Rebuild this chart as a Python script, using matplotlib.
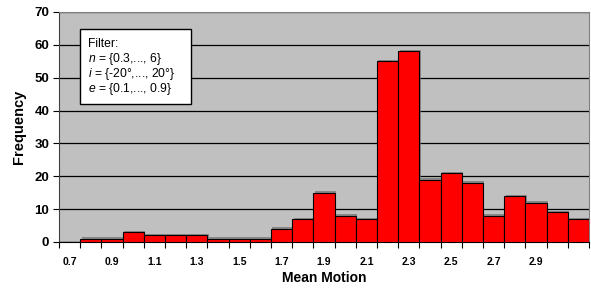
import matplotlib
matplotlib.use("Agg")
import matplotlib.pyplot as plt
import matplotlib.patheffects as pe
from matplotlib.patches import Rectangle

plt.rcParams['font.family'] = ['Liberation Sans', 'DejaVu Sans']
plt.rcParams['mathtext.fontset'] = 'custom'
plt.rcParams['mathtext.it'] = 'Liberation Sans:italic'
plt.rcParams['mathtext.rm'] = 'Liberation Sans'

# ====== data ======
categories = ["0.7", "0.8", "0.9", "1.0", "1.1", "1.2", "1.3", "1.4", "1.5", "1.6",
              "1.7", "1.8", "1.9", "2.0", "2.1", "2.2", "2.3", "2.4", "2.5", "2.6",
              "2.7", "2.8", "2.9", "3.0", "3.1"]
frequency = [0, 1, 1, 3, 2, 2, 2, 1, 1, 1,
             4, 7, 15, 8, 7, 55, 58, 19, 21, 18,
             8, 14, 12, 9, 7]
tick_labels = ["0.7", "0.9", "1.1", "1.3", "1.5", "1.7", "1.9", "2.1", "2.3", "2.5", "2.7", "2.9"]

# ====== plot ======
fig = plt.figure(figsize=(5.91, 2.94), dpi=100)
ax = fig.add_axes([59 / 591, 52 / 294, 530 / 591, 230 / 294])
ax.set_facecolor("#C0C0C0")

x = list(range(len(categories)))
bars = ax.bar(x, frequency, width=1.0, color="#FF0000", edgecolor="black", linewidth=0.8, zorder=3)
for b in bars:
    b.set_path_effects([pe.SimplePatchShadow(offset=(1, 1), shadow_rgbFace="#707070", alpha=0.7), pe.Normal()])

ax.set_xlim(-0.5, len(categories) - 0.5)
ax.set_ylim(0, 70)
ax.set_yticks(range(0, 71, 10))
ax.yaxis.grid(True, color="black", linewidth=0.9)
ax.set_axisbelow(True)

# category labels on every other bar, tick marks at bar boundaries
label_pos = [categories.index(t) for t in tick_labels]
ax.set_xticks(label_pos)
ax.set_xticklabels(tick_labels, fontsize=7.5, fontweight="bold")
ax.set_xticks([i - 0.5 for i in range(len(categories) + 1)], minor=True)
ax.tick_params(axis="x", which="major", length=0, pad=11)
ax.tick_params(axis="x", which="minor", length=4, width=0.8, color="black", direction="out")
ax.tick_params(axis="y", length=4, width=0.8, labelsize=9.5, pad=3)
for lbl in ax.get_yticklabels():
    lbl.set_fontweight("bold")

for side in ["top", "right"]:
    ax.spines[side].set_color("#808080")
ax.spines["left"].set_color("#404040")
ax.spines["bottom"].set_color("black")

ax.set_xlabel("Mean Motion", fontsize=10, fontweight="bold", labelpad=3)
ax.set_ylabel("Frequency", fontsize=10.5, fontweight="bold", labelpad=6)

# filter box
box = Rectangle((80, 294 - 104), 111, 75, transform=None, facecolor="white",
                edgecolor="black", linewidth=1.0, zorder=5)
fig.patches.append(box)
lines = ["Filter:", "$n$ = {0.3,..., 6}", "$i$ = {-20°,..., 20°}", "$e$ = {0.1,..., 0.9}"]
for k, s in enumerate(lines):
    fig.text(88 / 591, (294 - 44 - 15 * k) / 294, s, fontsize=8.7, va="center", ha="left", zorder=6)

plt.savefig("out.png", dpi=100)
